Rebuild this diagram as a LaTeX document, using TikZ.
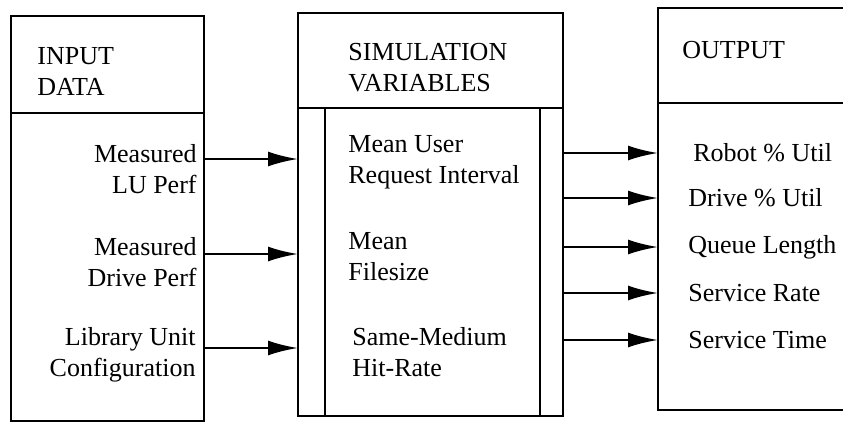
\documentclass[tikz,border=0pt]{standalone}
\usepackage{fontspec}
\setmainfont{Liberation Serif}
\usetikzlibrary{arrows.meta}

\begin{document}
\begin{tikzpicture}[x=0.5pt,y=-0.5pt,
    panel/.style={draw, line width=1.4pt, outer sep=0pt, inner sep=0pt, anchor=north west},
    rule/.style={line width=1.1pt},
    txt/.style={inner sep=0pt, font=\fontsize{13}{15.5}\selectfont},
    feed/.style={-{Latex[length=15pt,width=7.5pt]}, line width=1.2pt}]
  \useasboundingbox (0,0) rectangle (843,424);
  \clip (0,0) rectangle (843,424);

  % the three panels
  \node[panel, minimum width=96.5pt, minimum height=202.5pt] (inbox) at (11,16) {};
  \node[panel, minimum width=132.5pt, minimum height=201.5pt] (simbox) at (298,13) {};
  \node[panel, minimum width=96pt, minimum height=201pt] (outbox) at (658,8) {};

  \draw[rule] (inbox.west |- 0,113) -- (inbox.east |- 0,113);
  \draw[rule] (simbox.west |- 0,108) -- (simbox.east |- 0,108);
  \draw[rule] (outbox.west |- 0,103) -- (outbox.east |- 0,103);
  \draw[rule] (325,108) -- (325,416);
  \draw[rule] (540,108) -- (540,416);

  % headings
  \node[txt, anchor=west, align=left] (inhead) at (37,72) {INPUT\\DATA};
  \node[txt, anchor=west, align=left] (simhead) at (348,68) {SIMULATION\\VARIABLES};
  \node[txt, anchor=west] (outhead) at (682,50) {OUTPUT};

  % input data
  \node[txt, anchor=east, align=right] (luperf) at (197,169) {Measured\\LU Perf};
  \node[txt, anchor=east, align=right] (driveperf) at (197,262) {Measured\\Drive Perf};
  \node[txt, anchor=east, align=right] (config) at (196,355) {Library Unit\\Configuration};

  % simulation variables
  \node[txt, anchor=west, align=left] (interval) at (348,162) {Mean User\\Request Interval};
  \node[txt, anchor=west, align=left] (filesize) at (348,257) {Mean\\Filesize};
  \node[txt, anchor=west, align=left] (hitrate) at (352,352) {Same-Medium\\Hit-Rate};

  % outputs
  \node[txt, anchor=west] (robot) at (693,153) {Robot \% Util};
  \node[txt, anchor=west] (driveutil) at (688,198) {Drive \% Util};
  \node[txt, anchor=west] (queue) at (688,247) {Queue Length};
  \node[txt, anchor=west] (srate) at (688,293) {Service Rate};
  \node[txt, anchor=west] (stime) at (688,340) {Service Time};

  % connectors
  \foreach \y in {159,254,348}
    \draw[feed] (inbox.east |- 0,\y) -- (simbox.west |- 0,\y);
  \foreach \n in {robot,driveutil,queue,srate,stime}
    \draw[feed] (simbox.east |- \n) -- (outbox.west |- \n);
\end{tikzpicture}
\end{document}
